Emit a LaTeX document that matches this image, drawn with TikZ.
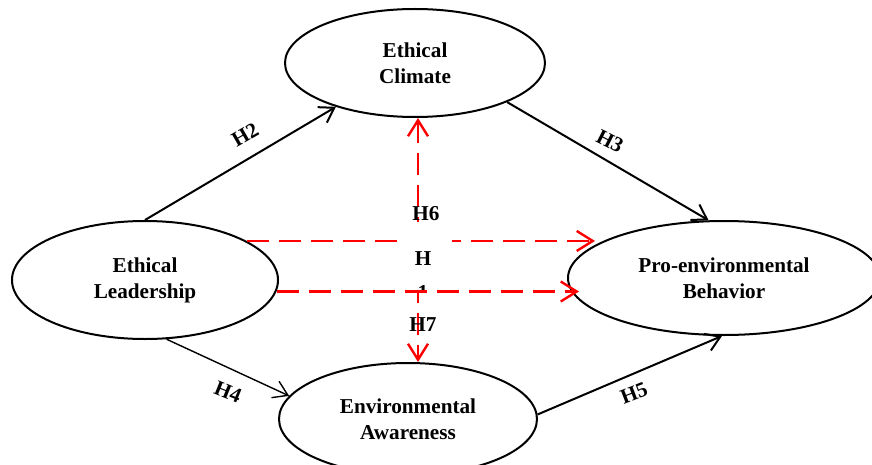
\documentclass[tikz,border=0pt]{standalone}
\usepackage{fontspec}
\setmainfont{Liberation Serif}
\usetikzlibrary{shapes.geometric,arrows.meta}

\definecolor{MRed}{HTML}{FF0000}

\begin{document}
\begin{tikzpicture}[x=0.5pt,y=-0.5pt,
		construct/.style={ellipse,draw,line width=1pt,inner sep=0pt,align=center,font=\fontsize{10.6}{13}\selectfont\bfseries},
		link/.style={line width=1pt,-{Straight Barb[length=7pt,width=9pt]}},
		hyp/.style={MRed,line width=1.2pt,dash pattern=on 11pt off 5pt,>={Straight Barb[length=8pt,width=10pt]}},
		lbl/.style={font=\fontsize{10.6}{13}\selectfont\bfseries,inner sep=1pt}]
			\useasboundingbox (0,0) rectangle (872,465);
			\clip (0,0) rectangle (872,465);
			
			\node[construct,minimum width=130pt,minimum height=54pt] (EC) at (415,63) {Ethical\\Climate};
			\node[construct,minimum width=133pt,minimum height=59pt] (EL) at (145,280) {Ethical\\Leadership};
			\node[construct,minimum width=156pt,minimum height=57pt] (PEB) at (724,278) {Pro-environmental\\Behavior};
			\node[construct,minimum width=129pt,minimum height=56pt] (EA) at (408,419) {Environmental\\Awareness};
			
			\draw[link] (EL.north) -- (EC.209);
			\draw[link] (EC.-23) -- (PEB.105);
			\draw[link,line width=0.7pt] (EL.-70) -- (EA.169);
			\draw[link] (EA.2) -- (PEB.-92);
			
			\node[lbl,rotate=30] at (245,135) {H2};
			\node[lbl,rotate=-27] at (610,141) {H3};
			\node[lbl,rotate=-22] at (228,392) {H4};
			\node[lbl,rotate=21] at (634,393) {H5};
			
			\draw[hyp,->] (EL.21) -- ([xshift=14pt]EL.21 -| PEB.west);
			\draw[hyp,<->] ([xshift=1.5pt]EC.south) -- ([xshift=1.5pt]EC.south |- EA.north);
			
			\node[fill=white,minimum width=27pt,minimum height=34pt,inner sep=0pt] (hbox) at (425,256) {};
			\begin{scope}
				\clip (hbox.south west) rectangle (hbox.north east);
				\node[lbl,align=center] at (423,276) {H\\[4pt]1};
			\end{scope}
			
			\draw[hyp,->] (EL.-5) -- ([xshift=6pt]EL.-5 -| PEB.west);
			
			\node[lbl] at (426,214) {H6};
			\node[lbl] at (423,325) {H7};
			
		\end{tikzpicture}
\end{document}
